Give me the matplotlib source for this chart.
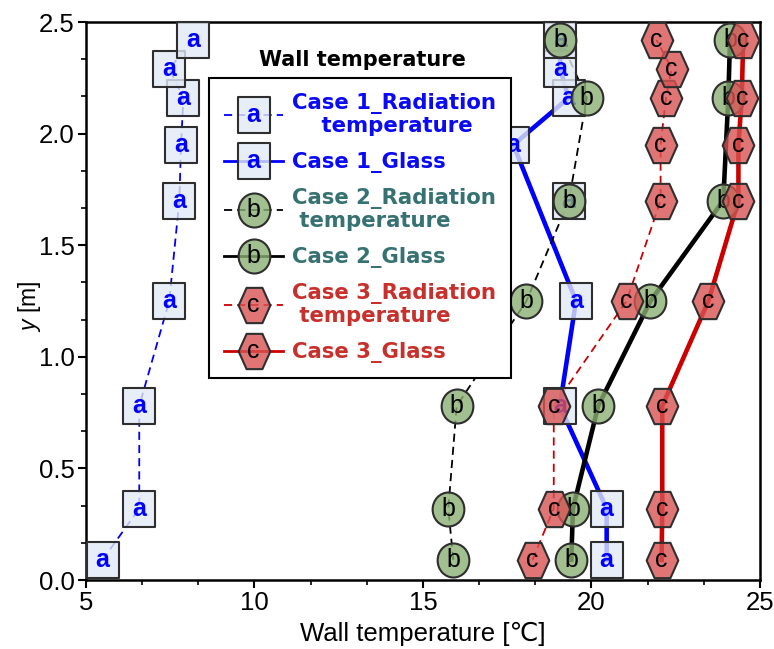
import numpy as np
import matplotlib
matplotlib.use("Agg")
import matplotlib.pyplot as plt
from matplotlib.path import Path
from matplotlib.lines import Line2D
from matplotlib.text import Text
from matplotlib.legend_handler import HandlerBase
from matplotlib.ticker import MultipleLocator

plt.rcParams["mathtext.fontset"] = "custom"
plt.rcParams["mathtext.it"] = "Liberation Sans:italic"
plt.rcParams["mathtext.rm"] = "Liberation Sans"

# ---- measurement heights [m] ----
heights_all = [0.09, 0.32, 0.78, 1.25, 1.70, 1.95, 2.16, 2.29, 2.42]
heights_case2 = [0.09, 0.32, 0.78, 1.25, 1.70, 2.16, 2.42]
heights_case3_glass = [0.09, 0.32, 0.78, 1.25, 1.70, 1.95, 2.16, 2.42]

# ---- wall temperatures [degC] ----
case1_rad = [5.49, 6.58, 6.58, 7.47, 7.77, 7.82, 7.89, 7.47, 8.17]
case1_glass = [20.45, 20.45, 19.06, 19.54, 19.32, 17.68, 19.32, 19.07, 19.07]
case1_glass_on_line = [True, True, True, True, False, True, True, True, True]
case2_rad = [15.90, 15.75, 16.00, 18.07, 19.33, 19.86, 19.08]
case2_glass = [19.40, 19.45, 20.20, 21.75, 23.91, 24.06, 24.11]
case3_rad = [18.25, 18.88, 18.88, 21.04, 22.05, 22.05, 22.21, 22.38, 21.93]
case3_glass = [22.08, 22.10, 22.10, 23.47, 24.36, 24.36, 24.46, 24.50]

legend_labels = [
    "Case 1_Radiation\n    temperature",
    "Case 1_Glass",
    "Case 2_Radiation\n temperature",
    "Case 2_Glass",
    "Case 3_Radiation\n temperature",
    "Case 3_Glass",
]
legend_colors = ["#0a0af5", "#0a0af5", "#377272", "#377272", "#c8302c", "#c8302c"]


# ---- marker shapes (slightly taller than wide) ----
def box_path(w, h):
    return Path([(-w / 2, -h / 2), (w / 2, -h / 2), (w / 2, h / 2), (-w / 2, h / 2), (-w / 2, -h / 2)],
                [Path.MOVETO, Path.LINETO, Path.LINETO, Path.LINETO, Path.CLOSEPOLY])


def oval_path(w, h):
    c = Path.unit_circle()
    return Path(c.vertices * np.array([w / 2, h / 2]), c.codes)


def hex_path(w, h):
    ang = np.deg2rad(np.arange(0, 360, 60))
    v = np.column_stack([w / 2 * np.cos(ang), h / 2 * np.sin(ang) / np.sin(np.pi / 3)])
    v = np.vstack([v, v[:1]])
    return Path(v, [Path.MOVETO] + [Path.LINETO] * 5 + [Path.CLOSEPOLY])


SQUARE = box_path(31.7, 36.7)
OVAL = oval_path(31.7, 34.0)
HEXA = hex_path(31.7, 35.3)
EDGE = "#2e2e2e"

sq_face = (226 / 255, 234 / 255, 246 / 255, 0.8)
ov_face = (139 / 255, 175 / 255, 115 / 255, 0.8)
hx_face = (216 / 255, 83 / 255, 83 / 255, 0.8)

dash = (0, (4.5, 2.8))
series = [
    dict(t=case1_rad, y=heights_all, ls=dash, color="#0000ff", lw=1.3, marker=SQUARE, ms=26.4,
         face=sq_face, letter="a", lcolor="#0000ff", weight="bold", z=3),
    dict(t=case1_glass, y=heights_all, ls="-", color="#0000ff", lw=3.3, marker=SQUARE, ms=26.4,
         face=sq_face, letter="a", lcolor="#0000ff", weight="bold", z=3, on_line=case1_glass_on_line),
    dict(t=case2_rad, y=heights_case2, ls=dash, color="black", lw=1.3, marker=OVAL, ms=24.5,
         face=ov_face, letter="b", lcolor="black", weight="normal", z=4),
    dict(t=case2_glass, y=heights_case2, ls="-", color="black", lw=3.3, marker=OVAL, ms=24.5,
         face=ov_face, letter="b", lcolor="black", weight="normal", z=4),
    dict(t=case3_rad, y=heights_all, ls=dash, color="#cc0000", lw=1.3, marker=HEXA, ms=25.4,
         face=hx_face, letter="c", lcolor="black", weight="normal", z=5),
    dict(t=case3_glass, y=heights_case3_glass, ls="-", color="#cc0000", lw=3.3, marker=HEXA, ms=25.4,
         face=hx_face, letter="c", lcolor="black", weight="normal", z=5),
]

LETTER_SIZE = 18
LETTER_FONT = "Liberation Sans"

fig = plt.figure(figsize=(7.74, 6.49), dpi=100)
ax = fig.add_axes([86 / 774, 1 - 580 / 649, (760 - 86) / 774, (580 - 22) / 649])

for s in series:
    t = np.asarray(s["t"], float)
    y = np.asarray(s["y"], float)
    keep = np.asarray(s.get("on_line", [True] * len(t)), bool)
    ax.plot(t[keep], y[keep], ls=s["ls"], color=s["color"], lw=s["lw"], zorder=2, clip_on=False)

for s in series:
    ax.plot(s["t"], s["y"], ls="none", marker=s["marker"], ms=s["ms"], mfc=s["face"], mec=EDGE,
            mew=1.5, zorder=s["z"], clip_on=False)
    for tv, yv in zip(s["t"], s["y"]):
        ax.text(tv, yv, s["letter"], ha="center", va="center", fontsize=LETTER_SIZE,
                color=s["lcolor"], weight=s["weight"], family=LETTER_FONT, zorder=s["z"] + 0.1)

ax.set_xlim(5, 25)
ax.set_ylim(0, 2.5)
ax.xaxis.set_minor_locator(MultipleLocator(5 / 3))
ax.yaxis.set_minor_locator(MultipleLocator(0.5 / 3))
ax.set_xticks([5, 10, 15, 20, 25])
ax.set_yticks([0, 0.5, 1.0, 1.5, 2.0, 2.5])
ax.set_yticklabels(["0.0", "0.5", "1.0", "1.5", "2.0", "2.5"])
ax.tick_params(which="major", direction="out", length=6, width=1.5, labelsize=18.5, pad=2)
ax.tick_params(which="minor", direction="out", length=3.5, width=1.2)
for lab in ax.get_xticklabels() + ax.get_yticklabels():
    lab.set_family("Liberation Sans")
for sp in ax.spines.values():
    sp.set_linewidth(1.8)

ax.set_xlabel("Wall temperature [\u2103]", fontsize=18.5, family=["Liberation Sans", "DejaVu Sans"], labelpad=5)
ax.set_ylabel(r"$y$ [m]", fontsize=16.5, family="Liberation Sans")
ax.yaxis.set_label_coords(-0.064, 0.49)


# ---- legend: line + lettered marker ----
class SeriesKey:
    def __init__(self, style):
        self.style = style


class LetterMarkerHandler(HandlerBase):
    def create_artists(self, legend, orig_handle, xdescent, ydescent, width, height, fontsize, trans):
        s = orig_handle.style
        yc = height / 2 - ydescent
        x0, x1 = -xdescent, width - xdescent
        xm = (x0 + x1) / 2
        line = Line2D([x0, x1], [yc, yc], ls=s["ls"], color=s["color"], lw=min(s["lw"], 2.0))
        mk = Line2D([xm], [yc], ls="none", marker=s["marker"], ms=s["ms"], mfc=s["face"],
                    mec=EDGE, mew=1.5)
        txt = Text(xm, yc, s["letter"], ha="center", va="center", fontsize=LETTER_SIZE,
                   color=s["lcolor"], weight=s["weight"], family=LETTER_FONT)
        for a in (line, mk, txt):
            a.set_transform(trans)
        return [line, mk, txt]


handles = [SeriesKey(s) for s in series]
leg = ax.legend(handles, legend_labels, handler_map={SeriesKey: LetterMarkerHandler()},
                loc="upper left", bbox_to_anchor=(209 / 774, 1 - 78 / 649), bbox_transform=fig.transFigure,
                borderaxespad=0, frameon=True, fancybox=False, framealpha=1, edgecolor="black",
                prop=dict(family="DejaVu Sans", weight="bold", size=15.3),
                handlelength=2.8, handletextpad=0.4, labelspacing=0.68, borderpad=0.7,
                handleheight=1.2)
leg.get_frame().set_linewidth(1.5)
for txt, c in zip(leg.get_texts(), legend_colors):
    txt.set_color(c)
    txt.set_linespacing(1.12)
leg.set_zorder(10)

fig.text(362 / 774, 1 - 60 / 649, "Wall temperature", ha="center", va="center",
         fontsize=15, weight="bold", family="DejaVu Sans")

fig.savefig("out.png", dpi=100)
